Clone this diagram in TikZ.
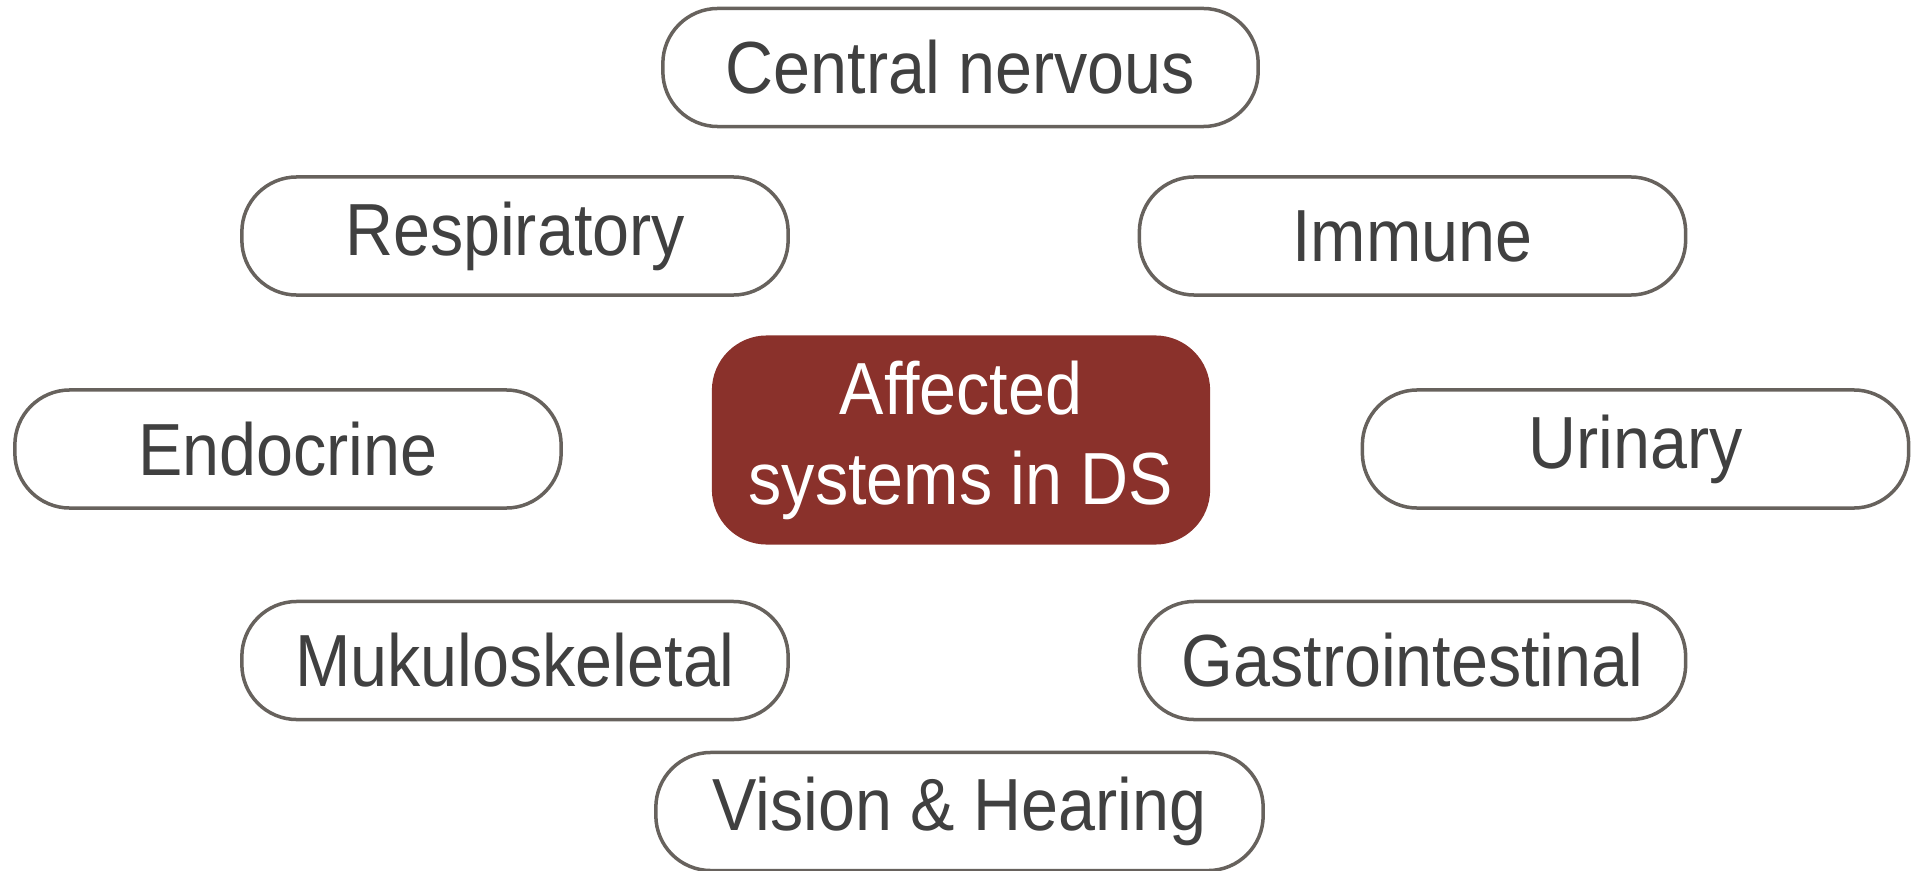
\documentclass[tikz,border=0pt]{standalone}
\usepackage{fontspec}
\setmainfont{Liberation Sans}[FakeStretch=0.9]
\definecolor{rimgrey}{HTML}{67625D}
\definecolor{txtgrey}{HTML}{404040}
\definecolor{hubred}{HTML}{8A312B}
\tikzset{
  sysbox/.style={draw=rimgrey, line width=0.035cm, rounded corners=0.55cm, fill=white,
    minimum width=5.46cm, minimum height=1.18cm, inner sep=0pt, text=txtgrey,
    font=\fontsize{21}{25}\selectfont},
  hubbox/.style={fill=hubred, rounded corners=0.55cm, minimum width=4.98cm,
    minimum height=2.09cm, inner sep=0pt, text=white, align=center,
    font=\fontsize{21}{25.6}\selectfont}
}
\begin{document}
\begin{tikzpicture}[x=0.01cm,y=-0.01cm]
  \useasboundingbox (0,0) rectangle (1919,870);
  \node[hubbox] (hub) at (961,440) {Affected\\systems in DS};
  \node[sysbox, minimum width=5.95cm] (cns) at (960.5,67.5) {Central nervous};
  \node[sysbox] (resp) at (515,236) {Respiratory};
  \node[sysbox] (imm) at (1412.5,236) {Immune};
  \node[sysbox] (endo) at (288,449) {Endocrine};
  \node[sysbox] (uri) at (1635.5,449) {Urinary};
  \node[sysbox] (musc) at (515,660.5) {Mukuloskeletal};
  \node[sysbox] (gast) at (1412.5,660.5) {Gastrointestinal};
  \node[sysbox, minimum width=6.07cm] (vis) at (959.5,811.5) {Vision \& Hearing};
\end{tikzpicture}
\end{document}
